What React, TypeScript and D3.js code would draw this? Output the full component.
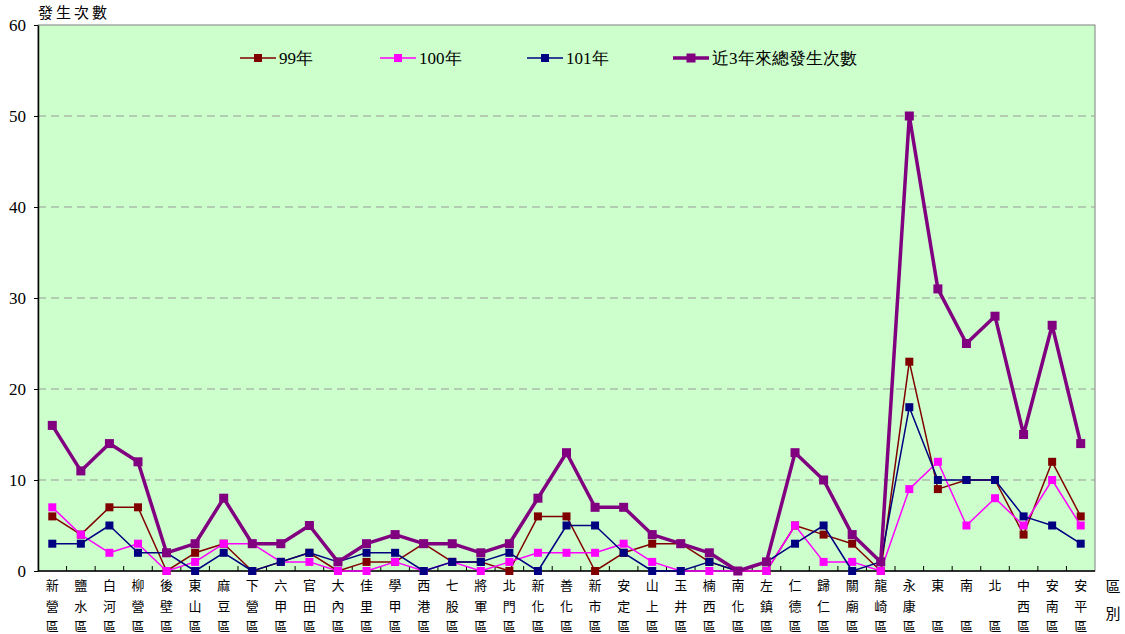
import React, { useEffect, useRef } from 'react';
import * as d3 from 'd3';

const districts = [
  '新營區', '鹽水區', '白河區', '柳營區', '後壁區', '東山區', '麻豆區', '下營區', '六甲區', '官田區',
  '大內區', '佳里區', '學甲區', '西港區', '七股區', '將軍區', '北門區', '新化區', '善化區', '新市區',
  '安定區', '山上區', '玉井區', '楠西區', '南化區', '左鎮區', '仁德區', '歸仁區', '關廟區', '龍崎區',
  '永康區', '東區', '南區', '北區', '中西區', '安南區', '安平區',
];

const y99 = [6, 4, 7, 7, 0, 2, 3, 0, 1, 2, 0, 1, 1, 3, 1, 1, 0, 6, 6, 0, 2, 3, 3, 1, 0, 0, 5, 4, 3, 0, 23, 9, 10, 10, 4, 12, 6];
const y100 = [7, 4, 2, 3, 0, 1, 3, 3, 1, 1, 0, 0, 1, 0, 1, 0, 1, 2, 2, 2, 3, 1, 0, 0, 0, 0, 5, 1, 1, 0, 9, 12, 5, 8, 5, 10, 5];
const y101 = [3, 3, 5, 2, 2, 0, 2, 0, 1, 2, 1, 2, 2, 0, 1, 1, 2, 0, 5, 5, 2, 0, 0, 1, 0, 1, 3, 5, 0, 1, 18, 10, 10, 10, 6, 5, 3];
const total = [16, 11, 14, 12, 2, 3, 8, 3, 3, 5, 1, 3, 4, 3, 3, 2, 3, 8, 13, 7, 7, 4, 3, 2, 0, 1, 13, 10, 4, 1, 50, 31, 25, 28, 15, 27, 14];

const yTicks = [0, 10, 20, 30, 40, 50, 60];

const series = [
  { name: '99年', values: y99, color: '#800000', width: 1.5, size: 8 },
  { name: '100年', values: y100, color: '#FF00FF', width: 1.5, size: 8 },
  { name: '101年', values: y101, color: '#000080', width: 1.5, size: 8 },
  { name: '近3年來總發生次數', values: total, color: '#800080', width: 3.5, size: 9 },
];

const legendX = [240, 380, 527, 673];

const App = () => {
  const ref = useRef<SVGSVGElement>(null);

  useEffect(() => {
    const width = 1125;
    const height = 634;
    const margin = { top: 25, left: 38, right: 30, bottom: 63 };
    const innerWidth = width - margin.left - margin.right;
    const innerHeight = height - margin.top - margin.bottom;

    const svg = d3.select(ref.current);
    svg.selectAll('*').remove();

    const serif = '"Liberation Serif", "DejaVu Serif", serif';
    const cjk = '"Noto Sans CJK TC", "Noto Sans CJK SC", sans-serif';

    const x = d3.scaleBand<string>().domain(districts).range([0, innerWidth]);
    const y = d3.scaleLinear().domain([0, 60]).range([innerHeight, 0]);
    const cx = (i: number) => (x(districts[i]) as number) + x.bandwidth() / 2;

    const g = svg.append('g').attr('transform', `translate(${margin.left},${margin.top})`);

    // plot background
    g.append('rect')
      .attr('width', innerWidth)
      .attr('height', innerHeight)
      .attr('fill', '#CCFFCC')
      .attr('stroke', '#808080')
      .attr('stroke-width', 1);

    // gridlines
    g.selectAll('.grid')
      .data(yTicks.filter(t => t > 0 && t < 60))
      .enter()
      .append('line')
      .attr('x1', 0)
      .attr('x2', innerWidth)
      .attr('y1', d => y(d))
      .attr('y2', d => y(d))
      .attr('stroke', '#999999')
      .attr('stroke-width', 1)
      .attr('stroke-dasharray', '8,5');

    // y axis
    const yAxis = g.append('g')
      .attr('font-family', serif)
      .call(d3.axisLeft(y).tickValues(yTicks).tickSize(4).tickSizeOuter(0).tickPadding(8));
    yAxis.attr('font-family', serif);
    yAxis.select('.domain').attr('stroke', '#000').attr('stroke-width', 1.5);
    yAxis.selectAll('text')
      .style('font-family', serif)
      .attr('font-size', 17)
      .attr('fill', '#000');

    // x axis with inner ticks at category boundaries
    g.append('line')
      .attr('x1', 0)
      .attr('x2', innerWidth)
      .attr('y1', innerHeight)
      .attr('y2', innerHeight)
      .attr('stroke', '#000')
      .attr('stroke-width', 1.5);
    g.selectAll('.xtick')
      .data(districts.slice(1))
      .enter()
      .append('line')
      .attr('x1', d => x(d) as number)
      .attr('x2', d => x(d) as number)
      .attr('y1', innerHeight)
      .attr('y2', innerHeight - 5)
      .attr('stroke', '#000');

    // x labels, vertical stacked characters
    districts.forEach((d, i) => {
      const chars = Array.from(d);
      const rows = chars.length === 2 ? [chars[0], '', chars[1]] : chars;
      rows.forEach((c, k) => {
        if (!c) return;
        g.append('text')
          .attr('x', cx(i))
          .attr('y', innerHeight + 19 + k * 20.5)
          .attr('text-anchor', 'middle')
          .attr('font-family', cjk)
          .attr('font-size', 13)
          .attr('fill', '#000')
          .text(c);
      });
    });

    // x axis title
    ['區', '別'].forEach((c, k) => {
      svg.append('text')
        .attr('x', 1113)
        .attr('y', 592 + k * 27)
        .attr('text-anchor', 'middle')
        .attr('font-family', cjk)
        .attr('font-size', 15)
        .attr('fill', '#000')
        .text(c);
    });

    // y axis title
    svg.append('text')
      .attr('x', 38)
      .attr('y', 18)
      .attr('font-family', cjk)
      .attr('font-size', 15)
      .attr('letter-spacing', 3)
      .attr('fill', '#000')
      .text('發生次數');

    // series
    const line = d3.line<number>()
      .x((_, i) => cx(i))
      .y(d => y(d));

    series.forEach(s => {
      g.append('path')
        .datum(s.values)
        .attr('fill', 'none')
        .attr('stroke', s.color)
        .attr('stroke-width', s.width)
        .attr('stroke-linejoin', 'round')
        .attr('d', line);
      g.selectAll(null)
        .data(s.values)
        .enter()
        .append('rect')
        .attr('x', (_, i) => cx(i) - s.size / 2)
        .attr('y', d => y(d) - s.size / 2)
        .attr('width', s.size)
        .attr('height', s.size)
        .attr('fill', s.color);
    });

    // legend
    series.forEach((s, i) => {
      const lx = legendX[i];
      const ly = 58;
      svg.append('line')
        .attr('x1', lx)
        .attr('x2', lx + 36)
        .attr('y1', ly)
        .attr('y2', ly)
        .attr('stroke', s.color)
        .attr('stroke-width', s.width);
      svg.append('rect')
        .attr('x', lx + 18 - s.size / 2)
        .attr('y', ly - s.size / 2)
        .attr('width', s.size)
        .attr('height', s.size)
        .attr('fill', s.color);
      svg.append('text')
        .attr('x', lx + 39)
        .attr('y', ly + 6)
        .style('font-family', serif)
        .attr('font-size', 17)
        .attr('fill', '#000')
        .text(s.name);
    });
  }, []);

  return <svg ref={ref} width={1125} height={634} style={{ display: 'block', position: 'absolute', left: 0, top: 0 }} />;
};

export default App;
